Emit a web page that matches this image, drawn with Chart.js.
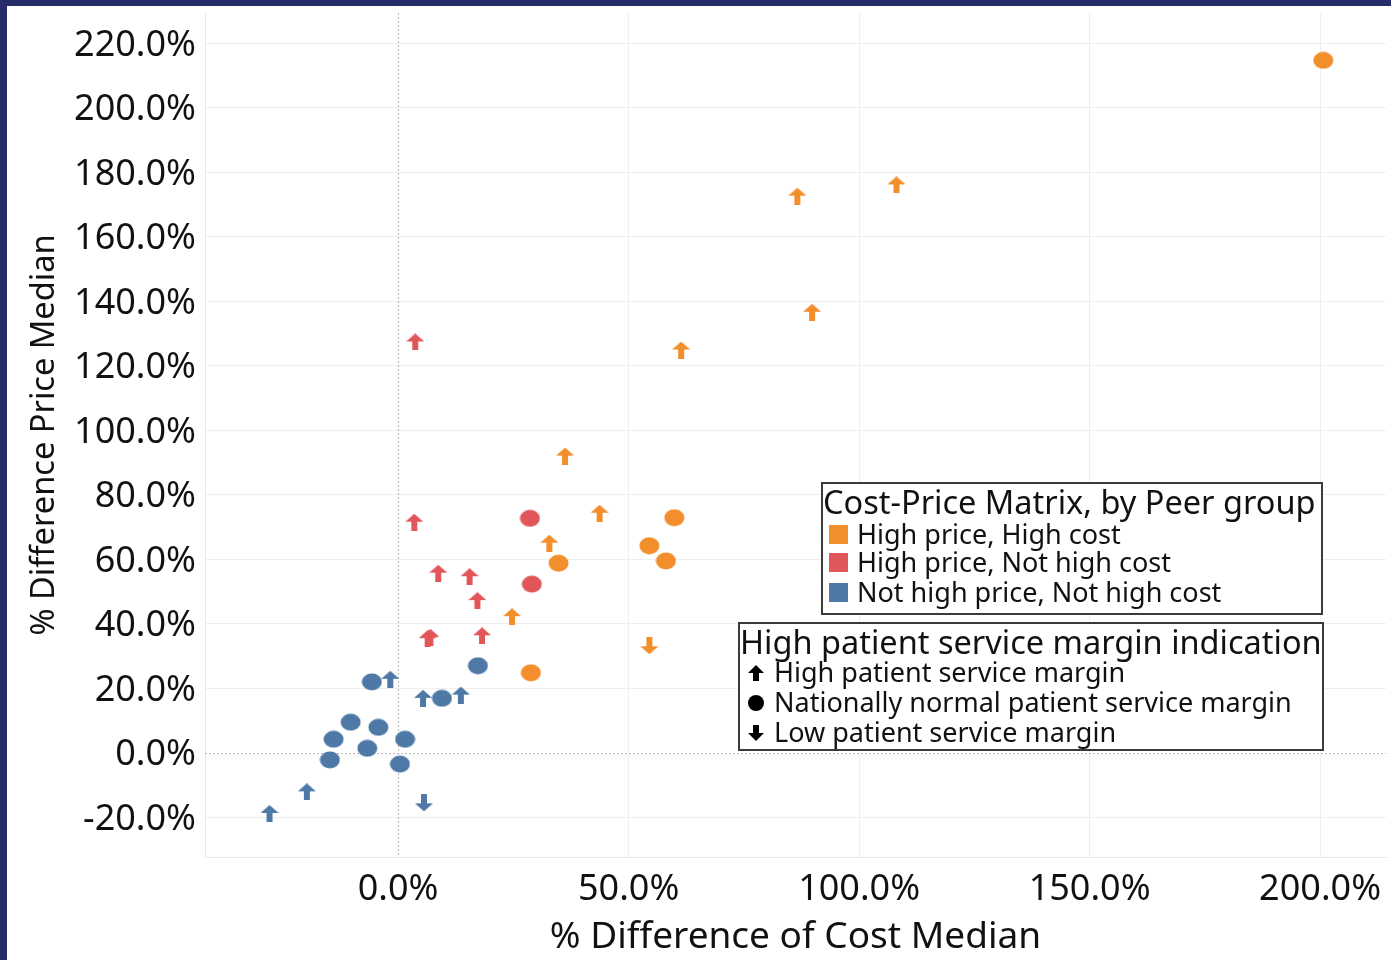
<!DOCTYPE html>
<html><head><meta charset="utf-8">
<script src="https://cdn.jsdelivr.net/npm/chart.js@4.4.1/dist/chart.umd.min.js"></script>
<style>
html,body{margin:0;padding:0;background:#262b69;width:1391px;height:960px;overflow:hidden}
#wrap{position:absolute;left:7px;top:6px;width:1384px;height:954px;background:#fff}
#c{position:absolute;left:0;top:0}
.lg{position:absolute;background:#fff;border:2px solid #3a3a3a;box-sizing:border-box;font-family:'Noto Sans',sans-serif;color:#111;z-index:5}
.row{position:absolute;white-space:nowrap}
.ttl{font-size:32.5px;line-height:38px;height:38px}
.itm{font-size:27px;line-height:32px;height:32px}
.sw{display:inline-block;width:19px;height:19px;vertical-align:middle;margin-right:9px;position:relative;top:-2px}
.gl{display:inline-block;vertical-align:middle;margin-right:10px;position:relative;top:-2px}
</style></head>
<body>
<div id="wrap"><canvas id="c" width="1384" height="954"></canvas></div>

<div class="lg" style="left:821px;top:482px;width:502px;height:133px">
  <div class="row ttl" style="left:0px;top:-1px">Cost-Price Matrix, by Peer group</div>
  <div class="row itm" style="left:6px;top:34px"><span class="sw" style="background:#F28E2B"></span>High price, High cost</div>
  <div class="row itm" style="left:6px;top:62px"><span class="sw" style="background:#E15759"></span>High price, Not high cost</div>
  <div class="row itm" style="left:6px;top:92px"><span class="sw" style="background:#4E79A7"></span>Not high price, Not high cost</div>
</div>
<div class="lg" style="left:738px;top:622px;width:586px;height:129px">
  <div class="row ttl" style="left:0px;top:-1px">High patient service margin indication</div>
  <div class="row itm" style="left:8px;top:32px"><svg class="gl" width="16" height="16" viewBox="0 0 16 16"><polygon points="8,0 16,8 11,8 11,16 5,16 5,8 0,8" fill="#000"/></svg>High patient service margin</div>
  <div class="row itm" style="left:8px;top:62px"><svg class="gl" width="16" height="16" viewBox="0 0 16 16"><circle cx="8" cy="8" r="8" fill="#000"/></svg>Nationally normal patient service margin</div>
  <div class="row itm" style="left:8px;top:92px"><svg class="gl" width="16" height="16" viewBox="0 0 16 16"><polygon points="8,16 16,8 11,8 11,0 5,0 5,8 0,8" fill="#000"/></svg>Low patient service margin</div>
</div>

<script>
// ---- tick values ----
const xTicks = [0, 50, 100, 150, 200];
const yTicks = [-20, 0, 20, 40, 60, 80, 100, 120, 140, 160, 180, 200, 220];

// ---- High price, High cost (orange) ----
const hiHiNormalX = [200.7, 59.9, 54.5, 34.8, 58.1, 28.8];
const hiHiNormalY = [214.7, 72.9, 64.2, 58.8, 59.5, 24.8];
const hiHiHighX = [86.6, 108.1, 89.8, 61.4, 36.2, 43.7, 32.8, 24.7];
const hiHiHighY = [172.6, 176.1, 136.6, 124.9, 92.0, 74.3, 65.0, 42.2];
const hiHiLowX = [54.5];
const hiHiLowY = [33.2];

// ---- High price, Not high cost (red) ----
const hiNotNormalX = [28.6, 29.0];
const hiNotNormalY = [72.7, 52.3];
const hiNotHighX = [3.7, 3.5, 8.7, 15.5, 17.2, 6.4, 7.0, 18.2];
const hiNotHighY = [127.4, 71.5, 55.7, 54.6, 47.2, 35.4, 35.8, 36.3];

// ---- Not high price, Not high cost (blue) ----
const notNotNormalX = [17.3, -5.7, 9.5, -10.3, -4.3, -14.0, 1.5, -6.7, -14.8, 0.4];
const notNotNormalY = [27.0, 22.0, 16.9, 9.5, 7.9, 4.2, 4.2, 1.4, -2.2, -3.5];
const notNotHighX = [-1.7, 5.4, 13.6, -19.8, -27.9];
const notNotHighY = [22.8, 16.9, 17.9, -12.1, -18.8];
const notNotLowX = [5.6];
const notNotLowY = [-15.5];

const ORANGE = '#F28E2B', RED = '#E15759', BLUE = '#4E79A7';
const FONT = "'Noto Sans', sans-serif";

function makeArrow(color, up) {
  const c = document.createElement('canvas');
  c.width = 18; c.height = 17;
  const g = c.getContext('2d');
  g.fillStyle = color;
  g.beginPath();
  if (up) {
    g.moveTo(9, 0); g.lineTo(18, 8); g.lineTo(12, 8); g.lineTo(12, 17);
    g.lineTo(6, 17); g.lineTo(6, 8); g.lineTo(0, 8);
  } else {
    g.moveTo(9, 17); g.lineTo(18, 9); g.lineTo(12, 9); g.lineTo(12, 0);
    g.lineTo(6, 0); g.lineTo(6, 9); g.lineTo(0, 9);
  }
  g.closePath(); g.fill();
  return c;
}
function makeDot(color) {
  const c = document.createElement('canvas');
  c.width = 21; c.height = 18;
  const g = c.getContext('2d');
  g.fillStyle = color;
  g.beginPath(); g.ellipse(10.5, 9, 10, 8.5, 0, 0, Math.PI * 2); g.fill();
  return c;
}
const pts = (xs, ys) => xs.map((x, i) => ({x: x, y: ys[i]}));
function ds(label, xs, ys, style) {
  return {label, data: pts(xs, ys), pointStyle: style, pointRadius: 9, pointHoverRadius: 9};
}

const datasets = [
  ds('High price, High cost – normal', hiHiNormalX, hiHiNormalY, makeDot(ORANGE)),
  ds('High price, High cost – high', hiHiHighX, hiHiHighY, makeArrow(ORANGE, true)),
  ds('High price, High cost – low', hiHiLowX, hiHiLowY, makeArrow(ORANGE, false)),
  ds('High price, Not high cost – normal', hiNotNormalX, hiNotNormalY, makeDot(RED)),
  ds('High price, Not high cost – high', hiNotHighX, hiNotHighY, makeArrow(RED, true)),
  ds('Not high price, Not high cost – normal', notNotNormalX, notNotNormalY, makeDot(BLUE)),
  ds('Not high price, Not high cost – high', notNotHighX, notNotHighY, makeArrow(BLUE, true)),
  ds('Not high price, Not high cost – low', notNotLowX, notNotLowY, makeArrow(BLUE, false)),
];

const zeroLines = {
  id: 'zeroLines',
  beforeDatasetsDraw(chart) {
    const {ctx, chartArea: a, scales: {x, y}} = chart;
    ctx.save();
    ctx.strokeStyle = '#b9b9b9'; ctx.lineWidth = 1; ctx.setLineDash([2, 2]);
    const px = Math.round(x.getPixelForValue(0)) + 0.5;
    const py = Math.round(y.getPixelForValue(0)) + 0.5;
    ctx.beginPath(); ctx.moveTo(px, a.top); ctx.lineTo(px, a.bottom); ctx.stroke();
    ctx.beginPath(); ctx.moveTo(a.left, py); ctx.lineTo(a.right, py); ctx.stroke();
    ctx.restore();
  }
};

const gridColor = (c) => (c.tick && c.tick.value === 0) ? 'rgba(0,0,0,0)' : '#eeeeee';

new Chart(document.getElementById('c'), {
  type: 'scatter',
  data: {datasets},
  options: {
    responsive: false, animation: false,
    layout: {autoPadding: false, padding: {top: 7, right: 5, left: 0, bottom: 0}},
    plugins: {legend: {display: false}, tooltip: {enabled: false}},
    scales: {
      x: {
        type: 'linear', min: -41.9, max: 214.3,
        afterBuildTicks: (s) => { s.ticks = xTicks.map(v => ({value: v})); },
        afterFit: (s) => { s.height = 103; s.paddingLeft = 0; s.paddingRight = 0; },
        grid: {color: gridColor, drawTicks: false},
        border: {color: '#e8e8e8'},
        ticks: {padding: 11, color: '#111', font: {family: FONT, size: 36}, callback: (v) => Number(v).toFixed(1) + '%', maxRotation: 0},
        title: {display: true, text: '% Difference of Cost Median', color: '#111', font: {family: FONT, size: 37}, padding: {top: 0, bottom: 0}}
      },
      y: {
        type: 'linear', min: -32.3, max: 229.4,
        afterBuildTicks: (s) => { s.ticks = yTicks.map(v => ({value: v})); },
        afterFit: (s) => { s.width = 198; s.paddingTop = 0; s.paddingBottom = 0; },
        grid: {color: gridColor, drawTicks: false},
        border: {color: '#e8e8e8'},
        ticks: {padding: 9, labelOffset: 2, color: '#111', font: {family: FONT, size: 36}, callback: (v) => Number(v).toFixed(1) + '%'},
        title: {display: true, text: '% Difference Price Median', color: '#111', font: {family: FONT, size: 32.6}, padding: {top: 18, bottom: 0}}
      }
    }
  },
  plugins: [zeroLines]
});
</script>
</body></html>
